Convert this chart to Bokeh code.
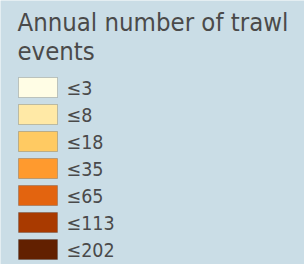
from bokeh.plotting import figure
from bokeh.models import Range1d, ColumnDataSource
from bokeh.core.properties import value
from bokeh.embed import file_html
from bokeh.resources import INLINE

title_lines = ["Annual number of trawl", "events"]
labels = ["≤3", "≤8", "≤18", "≤35", "≤65", "≤113", "≤202"]
colors = ["#fffde5", "#ffe9a6", "#ffca62", "#ff9a2e", "#e3640f", "#a93a00", "#622000"]

W, H = 304, 264
BG = "#cadde6"
FONT = "DejaVu Sans Condensed, DejaVu Sans"

p = figure(width=W, height=H, output_backend="svg", toolbar_location=None,
           x_range=Range1d(0, W), y_range=Range1d(H, 0),
           min_border=0, outline_line_color=None,
           background_fill_color=BG, border_fill_color=BG)
p.axis.visible = False
p.grid.visible = False

top0, pitch, sh = 77, 27, 20
n = len(labels)
src = ColumnDataSource(dict(
    left=[18] * n, right=[57] * n,
    top=[top0 + i * pitch for i in range(n)],
    bottom=[top0 + i * pitch + sh for i in range(n)],
    ymid=[top0 + i * pitch + sh / 2 + 1 for i in range(n)],
    tx=[66] * n, label=labels, color=colors))

p.quad(left="left", right="right", top="top", bottom="bottom", source=src,
       fill_color="color", line_color="#000000", line_alpha=0.18, line_width=1)
p.text(x="tx", y="ymid", text="label", source=src, text_font=value(FONT),
       text_font_size="19.5px", text_color="#4a4a4a", text_baseline="middle")

p.text(x=[17, 17], y=[21, 50], text=title_lines, text_font=value(FONT),
       text_font_size="25.5px", text_color="#4a4a4a", text_baseline="alphabetic")

html = file_html(p, INLINE)
html = html.replace("<body>", '<body style="margin:0;background:%s">' % BG, 1)
open("out.html", "w").write(html)
